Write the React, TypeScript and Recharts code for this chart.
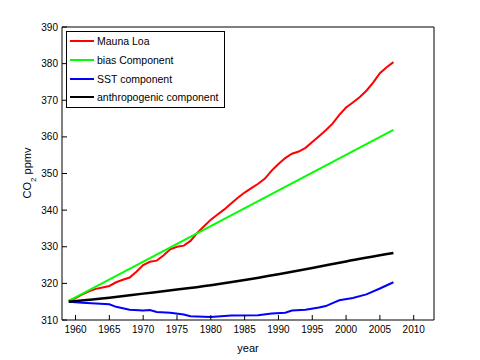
import { LineChart, Line, XAxis, YAxis, Legend } from 'recharts'

const X_TICKS = [1960, 1965, 1970, 1975, 1980, 1985, 1990, 1995, 2000, 2005, 2010]
const Y_TICKS = [310, 320, 330, 340, 350, 360, 370, 380, 390]
const SERIES_NAMES = ['Mauna Loa', 'bias Component', 'SST component', 'anthropogenic component']

const maunaLoa = [
  { year: 1959, value: 315.2 }, { year: 1960, value: 316.0 }, { year: 1961, value: 317.0 },
  { year: 1962, value: 317.8 }, { year: 1963, value: 318.5 }, { year: 1964, value: 318.9 },
  { year: 1965, value: 319.3 }, { year: 1966, value: 320.3 }, { year: 1967, value: 321.0 },
  { year: 1968, value: 321.6 }, { year: 1969, value: 323.2 }, { year: 1970, value: 325.0 },
  { year: 1971, value: 325.9 }, { year: 1972, value: 326.2 }, { year: 1973, value: 327.6 },
  { year: 1974, value: 329.3 }, { year: 1975, value: 330.0 }, { year: 1976, value: 330.3 },
  { year: 1977, value: 331.6 }, { year: 1978, value: 333.8 }, { year: 1979, value: 335.6 },
  { year: 1980, value: 337.4 }, { year: 1981, value: 338.8 }, { year: 1982, value: 340.2 },
  { year: 1983, value: 341.8 }, { year: 1984, value: 343.4 }, { year: 1985, value: 344.8 },
  { year: 1986, value: 346.0 }, { year: 1987, value: 347.2 }, { year: 1988, value: 348.6 },
  { year: 1989, value: 350.8 }, { year: 1990, value: 352.6 }, { year: 1991, value: 354.2 },
  { year: 1992, value: 355.4 }, { year: 1993, value: 356.0 }, { year: 1994, value: 357.0 },
  { year: 1995, value: 358.6 }, { year: 1996, value: 360.2 }, { year: 1997, value: 361.8 },
  { year: 1998, value: 363.6 }, { year: 1999, value: 366.0 }, { year: 2000, value: 368.0 },
  { year: 2001, value: 369.4 }, { year: 2002, value: 370.8 }, { year: 2003, value: 372.6 },
  { year: 2004, value: 374.8 }, { year: 2005, value: 377.4 }, { year: 2006, value: 379.0 },
  { year: 2007, value: 380.4 },
]

const biasComponent = [
  { year: 1959, value: 315.2 },
  { year: 2007, value: 361.9 },
]

const sstComponent = [
  { year: 1959, value: 315.0 }, { year: 1961, value: 314.7 }, { year: 1963, value: 314.5 },
  { year: 1965, value: 314.3 }, { year: 1966, value: 313.6 }, { year: 1967, value: 313.2 },
  { year: 1968, value: 312.8 }, { year: 1970, value: 312.6 }, { year: 1971, value: 312.7 },
  { year: 1972, value: 312.2 }, { year: 1974, value: 312.0 }, { year: 1976, value: 311.5 },
  { year: 1977, value: 311.0 }, { year: 1980, value: 310.8 }, { year: 1983, value: 311.2 },
  { year: 1987, value: 311.3 }, { year: 1989, value: 311.8 }, { year: 1991, value: 312.0 },
  { year: 1992, value: 312.6 }, { year: 1994, value: 312.8 }, { year: 1996, value: 313.4 },
  { year: 1997, value: 313.8 }, { year: 1998, value: 314.6 }, { year: 1999, value: 315.4 },
  { year: 2001, value: 316.0 }, { year: 2003, value: 317.0 }, { year: 2005, value: 318.6 },
  { year: 2007, value: 320.3 },
]

const anthropogenic = [
  { year: 1959, value: 315.0 }, { year: 1965, value: 316.1 }, { year: 1970, value: 317.2 },
  { year: 1975, value: 318.3 }, { year: 1980, value: 319.5 }, { year: 1985, value: 320.9 },
  { year: 1990, value: 322.5 }, { year: 1995, value: 324.2 }, { year: 2000, value: 326.0 },
  { year: 2007, value: 328.3 },
]

const FONT = '"Liberation Sans", Arial, sans-serif'
const tickStyle = { fontSize: 10, fill: '#000', fontFamily: FONT }

function YLabel() {
  return (
    <text
      x={31}
      y={173}
      transform="rotate(-90 31 173)"
      textAnchor="middle"
      fontSize={11}
      fontFamily={FONT}
      fill="#000"
    >
      CO<tspan baselineShift="sub" fontSize={8}>2</tspan> ppmv
    </text>
  )
}

function LegendBox(props: any) {
  // keep the plotting order, not the alphabetical one
  const items = [...(props.payload || [])].sort(
    (a: any, b: any) => SERIES_NAMES.indexOf(a.value) - SERIES_NAMES.indexOf(b.value)
  )
  return (
    <div
      style={{
        position: 'relative',
        width: 159,
        height: 77,
        boxSizing: 'border-box',
        border: '1px solid #000',
        background: '#fff',
        fontFamily: FONT,
        fontSize: 10.5,
        color: '#000',
      }}
    >
      {items.map((it: any, i: number) => (
        <div
          key={it.value}
          style={{
            position: 'absolute',
            left: 3,
            top: 1 + i * 18.8,
            height: 16,
            display: 'flex',
            alignItems: 'center',
            whiteSpace: 'nowrap',
          }}
        >
          <div style={{ width: 24, height: 2, background: it.color, marginRight: 3 }} />
          <span>{it.value}</span>
        </div>
      ))}
    </div>
  )
}

export default function App() {
  return (
    <div style={{ position: 'absolute', left: 0, top: 0, background: '#fff' }}>
      <LineChart width={480} height={360} margin={{ top: 0, right: 0, bottom: 0, left: 0 }}>
        <XAxis
          xAxisId="bottom"
          dataKey="year"
          type="number"
          domain={[1958, 2013]}
          ticks={X_TICKS}
          allowDataOverflow
          height={40}
          tickSize={-5}
          tickMargin={11}
          tick={tickStyle}
          stroke="#000"
          label={{ value: 'year', position: 'insideBottom', offset: 8, fontSize: 11, fill: '#000', fontFamily: FONT }}
        />
        <XAxis
          xAxisId="top"
          orientation="top"
          dataKey="year"
          type="number"
          domain={[1958, 2013]}
          ticks={X_TICKS}
          allowDataOverflow
          height={27}
          tickSize={-5}
          tick={false}
          stroke="#000"
        />
        <YAxis
          yAxisId="left"
          type="number"
          domain={[310, 390]}
          ticks={Y_TICKS}
          allowDataOverflow
          width={62}
          tickSize={-5}
          tickMargin={9}
          tick={tickStyle}
          stroke="#000"
          label={<YLabel />}
        />
        <YAxis
          yAxisId="right"
          orientation="right"
          type="number"
          domain={[310, 390]}
          ticks={Y_TICKS}
          allowDataOverflow
          width={46}
          tickSize={-5}
          tick={false}
          stroke="#000"
        />
        <Legend
          layout="vertical"
          align="center"
          verticalAlign="middle"
          content={LegendBox}
          wrapperStyle={{ left: 66, top: 31, width: 159, height: 77 }}
        />
        <Line data={maunaLoa} dataKey="value" name="Mauna Loa" xAxisId="bottom" yAxisId="left"
          stroke="#ff0000" strokeWidth={2} dot={false} isAnimationActive={false} type="linear" />
        <Line data={biasComponent} dataKey="value" name="bias Component" xAxisId="bottom" yAxisId="left"
          stroke="#00ff00" strokeWidth={2} dot={false} isAnimationActive={false} type="linear" />
        <Line data={sstComponent} dataKey="value" name="SST component" xAxisId="bottom" yAxisId="left"
          stroke="#0000ff" strokeWidth={2} dot={false} isAnimationActive={false} type="linear" />
        <Line data={anthropogenic} dataKey="value" name="anthropogenic component" xAxisId="bottom" yAxisId="left"
          stroke="#000000" strokeWidth={2.5} dot={false} isAnimationActive={false} type="monotone" />
      </LineChart>
    </div>
  )
}
